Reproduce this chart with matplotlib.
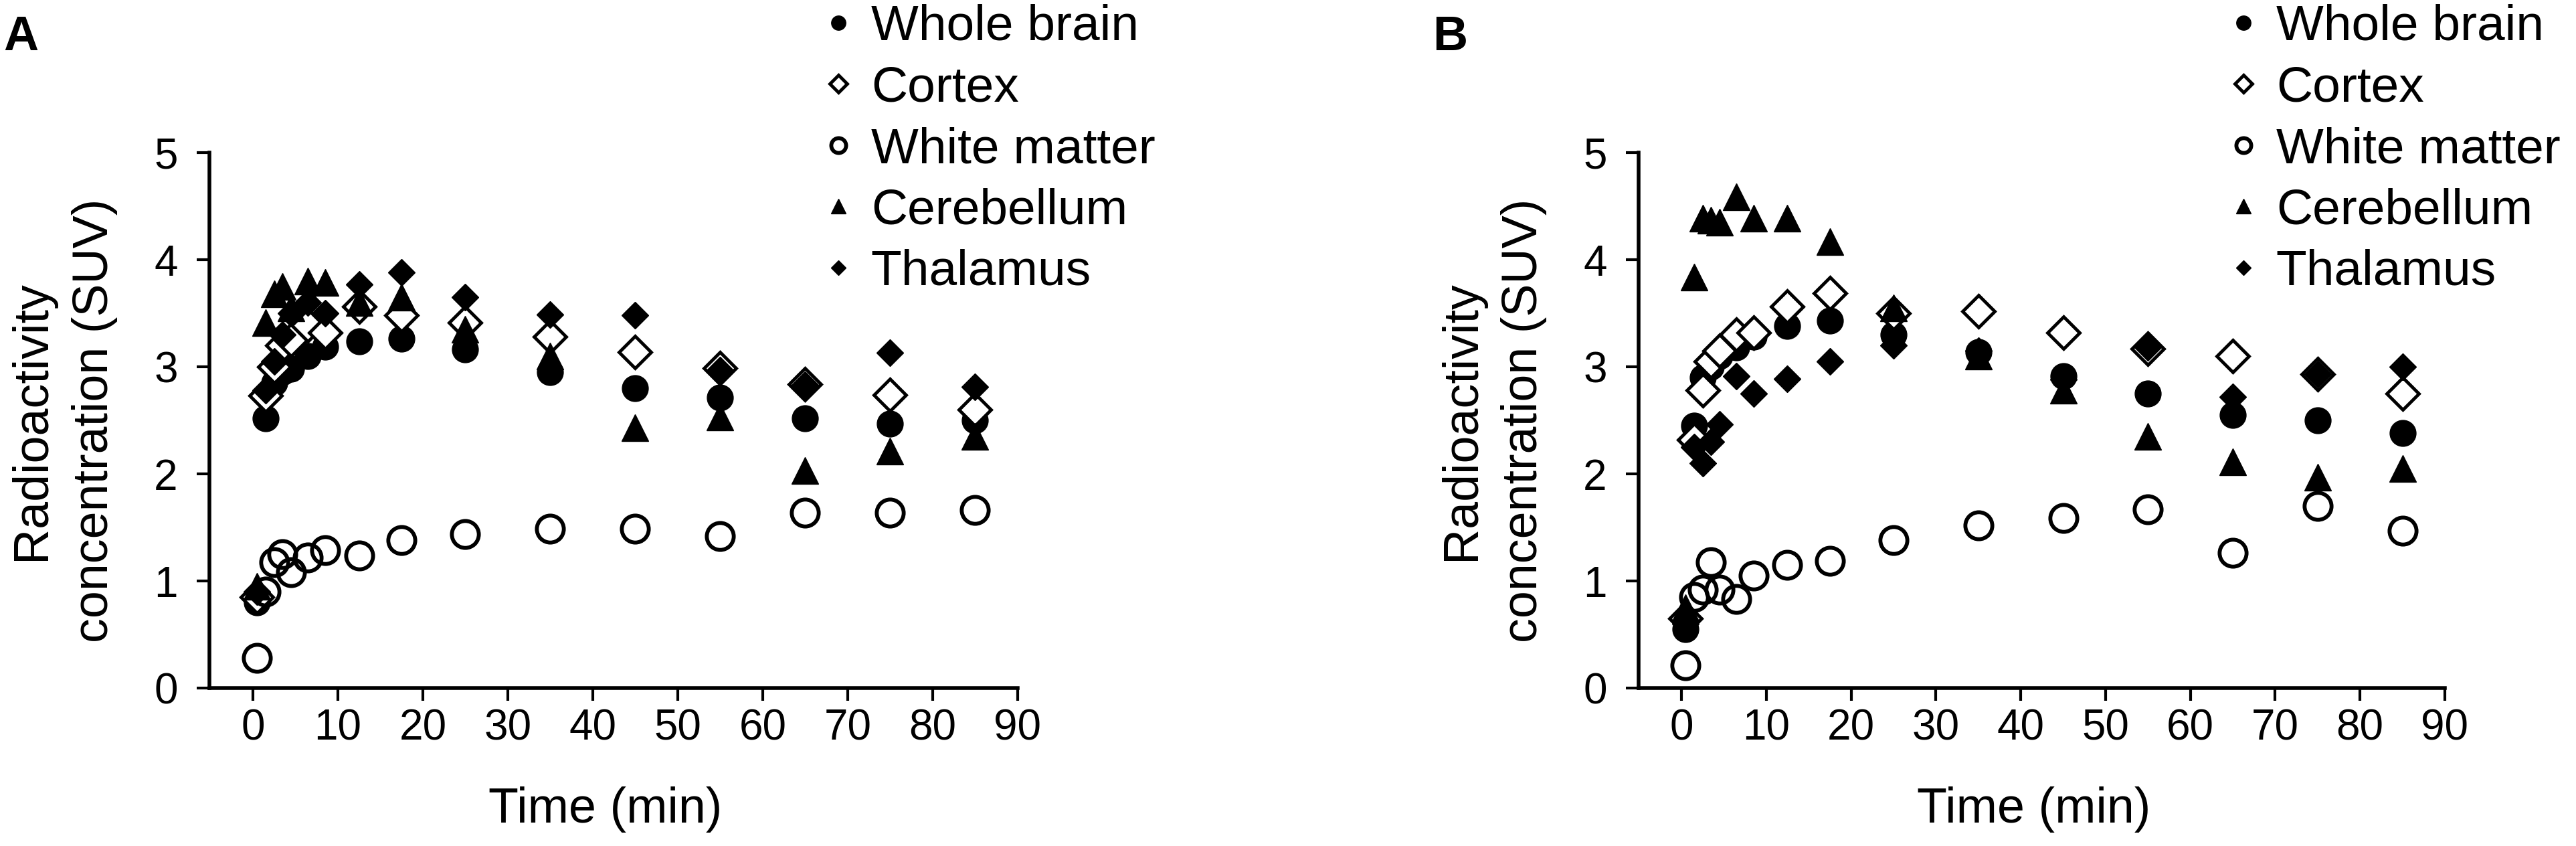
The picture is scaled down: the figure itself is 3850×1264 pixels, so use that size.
import matplotlib
matplotlib.use("Agg")
import matplotlib.pyplot as plt

plt.rcParams['font.family'] = ['Liberation Sans', 'DejaVu Sans']

# ---------------- data ----------------
time_min = [0.5, 1.5, 2.5, 3.5, 4.5, 6.5, 8.5, 12.5, 17.5, 25, 35, 45, 55, 65, 75, 85]

series_names = ["Whole brain", "Cortex", "White matter", "Cerebellum", "Thalamus"]

a_whole = [0.80, 2.52, 2.85, 2.95, 2.98, 3.10, 3.19, 3.24, 3.26, 3.16, 2.95, 2.80, 2.71, 2.52, 2.47, 2.50]
a_cortex = [0.85, 2.73, 3.00, 3.20, 3.25, 3.39, 3.32, 3.56, 3.48, 3.41, 3.28, 3.14, 2.99, 2.84, 2.74, 2.60]
a_white = [0.28, 0.90, 1.175, 1.25, 1.08, 1.22, 1.29, 1.24, 1.38, 1.44, 1.49, 1.49, 1.42, 1.64, 1.64, 1.66]
a_cereb = [0.95, 3.41, 3.68, 3.75, 3.55, 3.80, 3.79, 3.60, 3.65, 3.35, 3.10, 2.43, 2.53, 2.03, 2.21, 2.35]
a_thal = [0.90, 2.78, 3.05, 3.30, 3.50, 3.60, 3.50, 3.77, 3.88, 3.65, 3.49, 3.48, 2.97, 2.83, 3.13, 2.81]

b_whole = [0.55, 2.45, 2.90, 3.00, 3.10, 3.18, 3.28, 3.38, 3.43, 3.30, 3.14, 2.91, 2.75, 2.55, 2.50, 2.38]
b_cortex = [0.65, 2.32, 2.78, 3.05, 3.15, 3.30, 3.32, 3.56, 3.69, 3.50, 3.52, 3.32, 3.17, 3.10, 2.93, 2.75]
b_white = [0.21, 0.85, 0.92, 1.175, 0.92, 0.83, 1.05, 1.15, 1.19, 1.38, 1.52, 1.59, 1.67, 1.26, 1.70, 1.47]
b_cereb = [0.75, 3.84, 4.39, 4.37, 4.35, 4.59, 4.39, 4.39, 4.17, 3.55, 3.10, 2.78, 2.35, 2.11, 1.97, 2.05]
b_thal = [0.60, 2.25, 2.10, 2.30, 2.46, 2.91, 2.75, 2.89, 3.05, 3.20, 3.15, 2.88, 3.18, 2.72, 2.93, 3.00]

x_ticks = [0, 10, 20, 30, 40, 50, 60, 70, 80, 90]
y_ticks = [0, 1, 2, 3, 4, 5]
panel_labels = ["A", "B"]
x_label = "Time (min)"
y_label = "Radioactivity\nconcentration (SUV)"

# ---------------- styles ----------------
styles = [
    dict(marker='o', ms=28, mfc='black', mec='black', mew=1),            # whole brain
    dict(marker='D', ms=24, mfc='white', mec='black', mew=3.5),          # cortex
    dict(marker='o', ms=29, mfc='none', mec='black', mew=4.2),           # white matter
    dict(marker='^', ms=29, mfc='black', mec='black', mew=1),            # cerebellum
    dict(marker='D', ms=20, mfc='black', mec='black', mew=1),            # thalamus
]

W, H = 3850, 1264
fig = plt.figure(figsize=(W / 100, H / 100), dpi=100)
fig.patch.set_facecolor('white')

axes_px = [(313, 1521, -5.1), (2449, 3654, -5.05)]
panels = [
    (a_whole, a_cortex, a_white, a_cereb, a_thal),
    (b_whole, b_cortex, b_white, b_cereb, b_thal),
]
legend_left_px = [1223, 3323]
letter_px = [5, 2141]

for i, (vals, (lpx, rpx, xmin)) in enumerate(zip(panels, axes_px)):
    ax = fig.add_axes([lpx / W, 236 / H, (rpx - lpx) / W, 800 / H])
    handles = []
    for name, yv, st in zip(series_names, vals, styles):
        h, = ax.plot(time_min, yv, linestyle='none', label=name, clip_on=False, **st)
        handles.append(h)
    ax.set_xlim(xmin, 90)
    ax.set_ylim(0, 5)
    ax.set_xticks(x_ticks)
    ax.set_yticks(y_ticks)
    for s in ['top', 'right']:
        ax.spines[s].set_visible(False)
    for s in ['left', 'bottom']:
        ax.spines[s].set_linewidth(4)
    ax.tick_params(axis='both', direction='out', length=14, width=3, labelsize=46)
    ax.tick_params(axis='y', pad=20)
    ax.tick_params(axis='x', pad=8)
    ax.set_xlabel(x_label, fontsize=53, va='center')
    ax.xaxis.set_label_coords(0.49, -0.2275)
    ax.set_ylabel(y_label, fontsize=53, va='center', ha='center', linespacing=1.45)
    ax.yaxis.set_label_coords(-0.181, 0.5)

    leg = ax.legend(handles=handles, loc='upper left',
                    bbox_to_anchor=(legend_left_px[i] / W, 1.0 - 6 / H),
                    bbox_transform=fig.transFigure, frameon=False,
                    fontsize=54, borderpad=0, borderaxespad=0,
                    handlelength=0.8, handletextpad=0.25, labelspacing=0.30,
                    markerscale=0.55)

    fig.text(letter_px[i] / W, 1 - 22 / H, panel_labels[i], fontsize=52,
             fontweight='bold', ha='left', va='top')

fig.savefig("out.png", dpi=100, facecolor='white')
